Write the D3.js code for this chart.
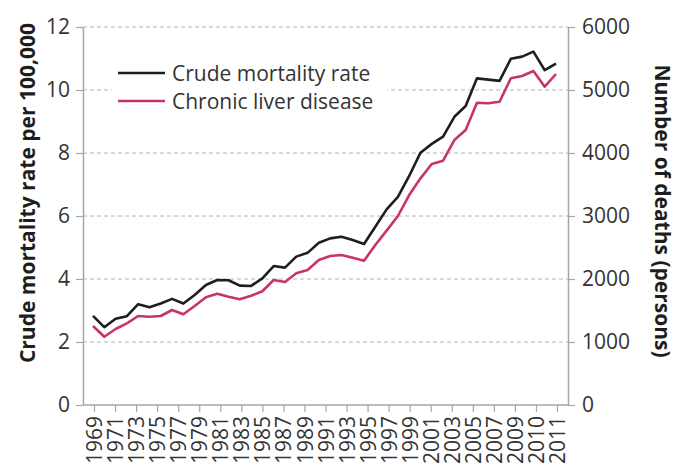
<!DOCTYPE html>
<html>
<head>
<meta charset="utf-8">
<script src="https://cdn.jsdelivr.net/npm/d3@7"></script>
<style>
  body { margin: 0; background: #fff; }
  svg { font-family: "Open Sans", sans-serif; }
</style>
</head>
<body>
<div class="canvas"></div>
<script>
// yearly values
const years = [1969, 1970, 1971, 1972, 1973, 1974, 1975, 1976, 1977, 1978,
  1979, 1980, 1981, 1982, 1983, 1984, 1985, 1986, 1987, 1988,
  1989, 1990, 1991, 1992, 1993, 1994, 1995, 1996, 1997, 1998,
  1999, 2000, 2001, 2002, 2003, 2004, 2005, 2006, 2007, 2008,
  2009, 2010];

// crude mortality rate per 100,000 (left axis)
const crudeRate = [2.83, 2.47, 2.74, 2.82, 3.20, 3.10, 3.22, 3.37, 3.22, 3.49,
  3.81, 3.97, 3.96, 3.79, 3.78, 4.02, 4.41, 4.36, 4.71, 4.83,
  5.15, 5.29, 5.34, 5.24, 5.11, 5.66, 6.21, 6.61, 7.27, 8.01,
  8.29, 8.52, 9.15, 9.49, 10.37, 10.33, 10.29, 10.99, 11.06, 11.22,
  10.63, 10.84];

// chronic liver disease, number of deaths (right axis)
const liverDeaths = [1254, 1084, 1206, 1297, 1413, 1402, 1413, 1508, 1440, 1571,
  1710, 1767, 1719, 1678, 1735, 1805, 1984, 1952, 2090, 2143,
  2302, 2365, 2381, 2338, 2290, 2540, 2767, 3000, 3333, 3598,
  3825, 3878, 4206, 4365, 4798, 4789, 4814, 5186, 5222, 5302,
  5052, 5254];

// labels printed under the x axis
const tickLabels = ["1969", "1971", "1973", "1975", "1977", "1979", "1981", "1983",
  "1985", "1987", "1989", "1991", "1993", "1995", "1997", "1999", "2001", "2003",
  "2005", "2007", "2009", "2010", "2011"];

const leftTicks = [0, 2, 4, 6, 8, 10, 12];
const rightTicks = [0, 1000, 2000, 3000, 4000, 5000, 6000];

const legendItems = [
  { name: "Crude mortality rate", color: "#1e1e1e" },
  { name: "Chronic liver disease", color: "#c8336a" }
];

const W = 676, H = 468;
const plotL = 83, plotR = 568, plotT = 27, plotB = 405;

const svg = d3.select(".canvas")
  .append("svg")
    .attr("width", W)
    .attr("height", H);

// SCALES
const x = d3.scaleLinear()
  .domain([years[0], years[years.length - 1]])
  .range([93, 556]);

const xAxisScale = d3.scalePoint()
  .domain(tickLabels)
  .range([94, 557]);

const yLeft = d3.scaleLinear().domain([0, 12]).range([plotB, plotT]);
const yRight = d3.scaleLinear().domain([0, 6000]).range([plotB, plotT]);

// GRIDLINES (dashed)
svg.append("g")
  .selectAll("line")
  .data(leftTicks.filter(d => d > 0))
  .enter()
    .append("line")
    .attr("x1", plotL)
    .attr("x2", plotR)
    .attr("y1", d => yLeft(d))
    .attr("y2", d => yLeft(d))
    .attr("stroke", "#b4b4b4")
    .attr("stroke-width", 1)
    .attr("stroke-dasharray", "4,3");

// AXES
const axisColor = "#a6a6a6";
const textColor = "#333";

const gLeft = svg.append("g")
  .attr("transform", `translate(${plotL},0)`)
  .call(d3.axisLeft(yLeft).tickValues(leftTicks).tickSize(7).tickSizeOuter(0).tickPadding(6));

const gRight = svg.append("g")
  .attr("transform", `translate(${plotR},0)`)
  .call(d3.axisRight(yRight).tickValues(rightTicks).tickFormat(d3.format("d"))
    .tickSize(7).tickSizeOuter(0).tickPadding(7));

const gBottom = svg.append("g")
  .attr("transform", `translate(0,${plotB})`)
  .call(d3.axisBottom(xAxisScale).tickSize(7).tickSizeOuter(0));

// x axis line spans the whole plot
gBottom.select(".domain").attr("d", `M${plotL},0H${plotR}`);

[gLeft, gRight, gBottom].forEach(g => {
  g.select(".domain").attr("stroke", axisColor).attr("stroke-width", 1.5);
  g.selectAll(".tick line").attr("stroke", axisColor).attr("stroke-width", 1.2);
  g.selectAll("text")
    .attr("fill", textColor)
    .style("font-size", "21px")
    .style("font-family", "'Open Sans', sans-serif");
});

gBottom.selectAll("text")
  .attr("transform", "rotate(-90)")
  .attr("text-anchor", "end")
  .attr("x", -11)
  .attr("y", 0)
  .attr("dy", "0.36em");

// LINES
const crudeLine = d3.line()
  .x((d, i) => x(years[i]))
  .y(d => yLeft(d));

const liverLine = d3.line()
  .x((d, i) => x(years[i]))
  .y(d => yRight(d));

svg.append("path")
  .datum(liverDeaths)
  .attr("fill", "none")
  .attr("stroke", legendItems[1].color)
  .attr("stroke-width", 2.6)
  .attr("stroke-linejoin", "round")
  .attr("d", liverLine);

svg.append("path")
  .datum(crudeRate)
  .attr("fill", "none")
  .attr("stroke", legendItems[0].color)
  .attr("stroke-width", 2.6)
  .attr("stroke-linejoin", "round")
  .attr("d", crudeLine);

// LEGEND
const legend = svg.append("g")
  .attr("transform", "translate(112,58)");

legend.append("rect")
  .attr("width", 275)
  .attr("height", 60)
  .attr("fill", "#fff");

const items = legend.selectAll("g.item")
  .data(legendItems)
  .enter()
    .append("g")
    .attr("class", "item")
    .attr("transform", (d, i) => `translate(0,${15 + i * 28})`);

items.append("line")
  .attr("x1", 6)
  .attr("x2", 53)
  .attr("stroke", d => d.color)
  .attr("stroke-width", 2.6);

items.append("text")
  .attr("x", 60)
  .attr("dy", "0.36em")
  .attr("fill", textColor)
  .style("font-size", "21px")
  .text(d => d.name);

// AXIS TITLES
svg.append("text")
  .attr("transform", "translate(27,193) rotate(-90)")
  .attr("text-anchor", "middle")
  .attr("dy", "0.36em")
  .attr("fill", "#1e1e1e")
  .style("font-size", "21px")
  .style("font-weight", "bold")
  .text("Crude mortality rate per 100,000");

svg.append("text")
  .attr("transform", "translate(663,211) rotate(90)")
  .attr("text-anchor", "middle")
  .attr("dy", "0.36em")
  .attr("fill", "#1e1e1e")
  .style("font-size", "21px")
  .style("font-weight", "bold")
  .text("Number of deaths (persons)");
</script>
</body>
</html>
